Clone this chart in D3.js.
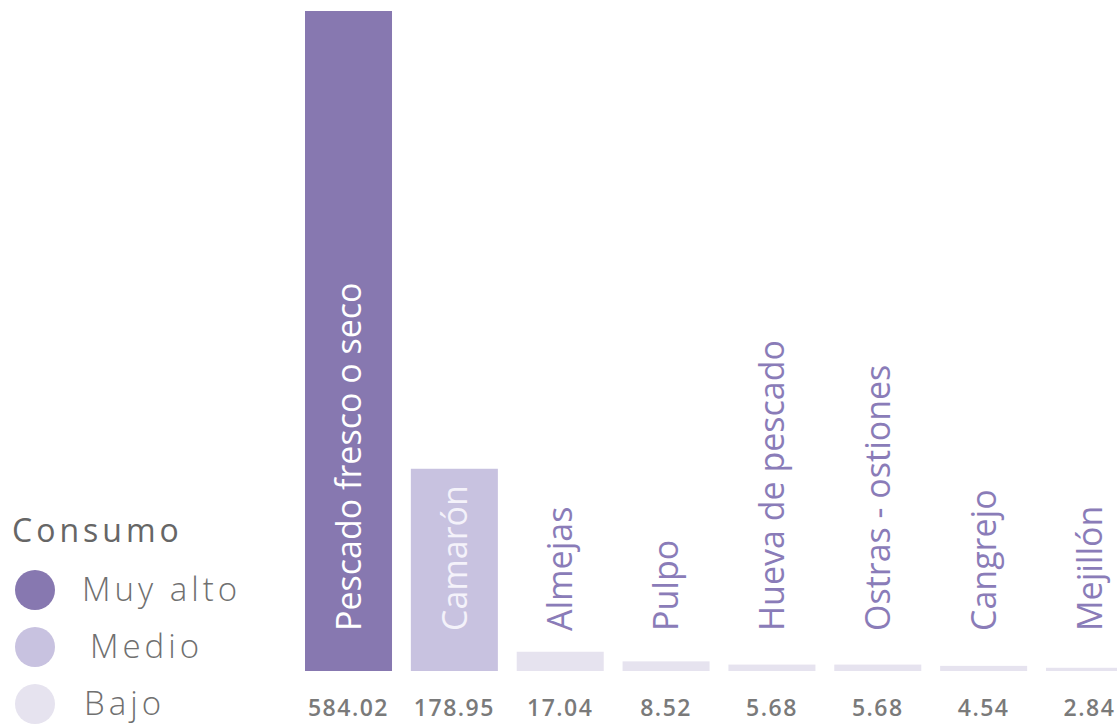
<!DOCTYPE html>
<html>
<head>
<meta charset="utf-8">
<script src="https://cdn.jsdelivr.net/npm/d3@7"></script>
<style>
  html, body { margin: 0; padding: 0; background: #ffffff; }
  svg { display: block; }
</style>
</head>
<body>
<svg id="chart" width="1117" height="724"></svg>
<script>
// Consumo de pescados y mariscos por producto
const categories = ["Pescado fresco o seco", "Camarón", "Almejas", "Pulpo",
  "Hueva de pescado", "Ostras - ostiones", "Cangrejo", "Mejillón"];
const values = [584.02, 178.95, 17.04, 8.52, 5.68, 5.68, 4.54, 2.84];
const levels = ["Muy alto", "Medio", "Bajo", "Bajo", "Bajo", "Bajo", "Bajo", "Bajo"];
const valueLabels = ["584.02", "178.95", "17.04", "8.52", "5.68", "5.68", "4.54", "2.84"];
const legendTitle = "Consumo";
const legendLevels = ["Muy alto", "Medio", "Bajo"];

const palette = { "Muy alto": "#8778b0", "Medio": "#c8c2e0", "Bajo": "#e6e3ef" };
const labelInk = { "Muy alto": "#ffffff", "Medio": "#f4f2fa", "Bajo": "#8a7cb8" };

const svg = d3.select("#chart");
const baseY = 671, topY = 11;

const x = d3.scaleBand()
  .domain(categories)
  .range([305, 1133])
  .paddingInner(0.178)
  .paddingOuter(0);

const y = d3.scaleLinear()
  .domain([0, d3.max(values)])
  .range([baseY, topY]);

const color = d3.scaleOrdinal().domain(legendLevels).range(legendLevels.map(l => palette[l]));

const rows = categories.map((c, i) => ({ cat: c, value: values[i], level: levels[i], label: valueLabels[i] }));

// bars
svg.append("g").selectAll("rect")
  .data(rows)
  .join("rect")
  .attr("x", d => x(d.cat))
  .attr("y", d => y(d.value))
  .attr("width", x.bandwidth())
  .attr("height", d => baseY - y(d.value))
  .attr("fill", d => color(d.level));

// vertical product names
svg.append("g").selectAll("text")
  .data(rows)
  .join("text")
  .attr("transform", d => `translate(${x(d.cat) + x.bandwidth() / 2},${baseY - 40}) rotate(-90)`)
  .attr("dy", "0.36em")
  .attr("text-anchor", "start")
  .attr("font-family", "'Open Sans', sans-serif")
  .attr("font-weight", 500)
  .attr("font-size", 34)
  .attr("fill", d => labelInk[d.level])
  .text(d => d.cat);

// values under the bars
svg.append("g").selectAll("text")
  .data(rows)
  .join("text")
  .attr("x", d => x(d.cat) + x.bandwidth() / 2)
  .attr("y", 716)
  .attr("text-anchor", "middle")
  .attr("font-family", "'Open Sans', sans-serif")
  .attr("font-weight", 600)
  .attr("font-size", 23)
  .attr("letter-spacing", 1.5)
  .attr("fill", "#7a7a7a")
  .text(d => d.label);

// legend
const legend = svg.append("g");
legend.append("text")
  .attr("x", 12).attr("y", 542)
  .attr("font-family", "'Open Sans', sans-serif")
  .attr("font-size", 32)
  .attr("letter-spacing", 4)
  .attr("fill", "#666666")
  .text(legendTitle);

const legendY = d3.scalePoint().domain(legendLevels).range([590, 704]);
const legendTextX = { "Muy alto": 82, "Medio": 90, "Bajo": 84 };
const items = legend.selectAll("g.item")
  .data(legendLevels)
  .join("g")
  .attr("class", "item")
  .attr("transform", d => `translate(0,${legendY(d)})`);
items.append("circle")
  .attr("cx", 35).attr("cy", 0).attr("r", 20)
  .attr("fill", d => color(d));
items.append("text")
  .attr("x", d => legendTextX[d])
  .attr("y", 11)
  .attr("font-family", "'Open Sans', sans-serif")
  .attr("font-weight", 300)
  .attr("font-size", 33)
  .attr("letter-spacing", 4)
  .attr("fill", "#707070")
  .text(d => d);
</script>
</body>
</html>
